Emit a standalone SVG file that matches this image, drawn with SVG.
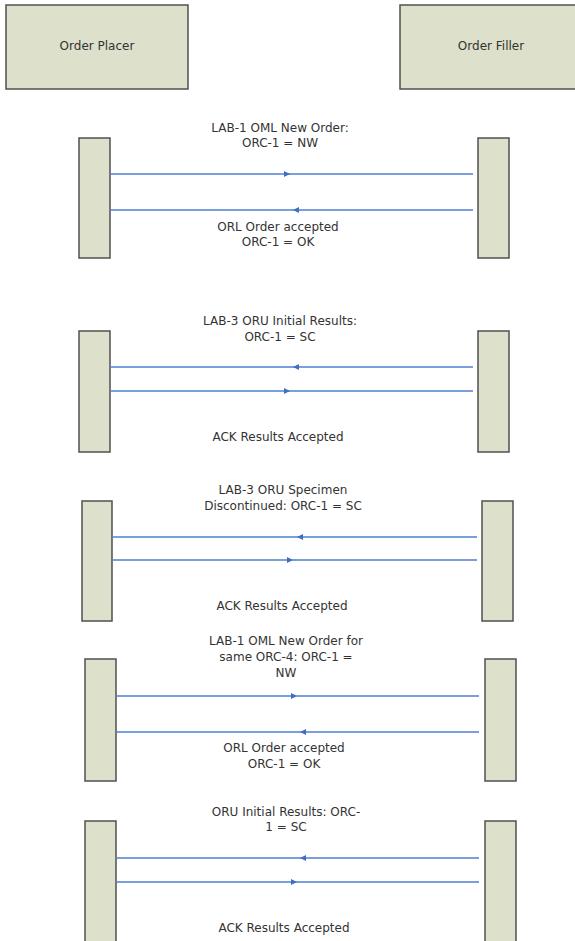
<svg xmlns="http://www.w3.org/2000/svg" width="575" height="941" viewBox="0 0 575 941">
<style>
.box{fill:#dde0ca;stroke:#505050;stroke-width:1.5}
.t{font-family:"DejaVu Sans","Liberation Sans",Arial,sans-serif;font-size:12px;fill:#333;text-anchor:middle}
.msg{fill:none;stroke:#4f7fcf;stroke-width:1.3;marker-mid:url(#ah)}
</style>
<defs>
<marker id="ah" viewBox="0 0 6 6" refX="6" refY="3" markerWidth="6" markerHeight="6" markerUnits="userSpaceOnUse" orient="auto">
<path d="M0,0 L6,3 L0,6 z" fill="#3f6fc0"/>
</marker>
</defs>
<rect width="575" height="941" fill="#fff"/>
<g id="order-placer"><rect class="box" x="6" y="5" width="182" height="84"/><text class="t" x="97" y="50">Order Placer</text></g>
<g id="order-filler"><rect class="box" x="400" y="5" width="182" height="84"/><text class="t" x="491" y="50">Order Filler</text></g>

<g id="act1"><rect class="box" x="79" y="138" width="31" height="120"/><rect class="box" x="478" y="138" width="31" height="120"/></g>
<g id="act2"><rect class="box" x="79" y="331" width="31" height="121"/><rect class="box" x="478" y="331" width="31" height="121"/></g>
<g id="act3"><rect class="box" x="82" y="501" width="30" height="120"/><rect class="box" x="482" y="501" width="31" height="120"/></g>
<g id="act4"><rect class="box" x="85" y="659" width="31" height="122"/><rect class="box" x="485" y="659" width="31" height="122"/></g>
<g id="act5"><rect class="box" x="85" y="821" width="31" height="130"/><rect class="box" x="485" y="821" width="31" height="130"/></g>

<g id="connectors">
<path class="msg" d="M110,174 L290,174 L473,174"/>
<path class="msg" d="M473,210 L293,210 L110,210"/>
<path class="msg" d="M473,367 L293,367 L110,367"/>
<path class="msg" d="M110,391 L290,391 L473,391"/>
<path class="msg" d="M477,537 L297,537 L112,537"/>
<path class="msg" d="M112,560 L293,560 L477,560"/>
<path class="msg" d="M116,696 L297,696 L479,696"/>
<path class="msg" d="M479,732 L300,732 L116,732"/>
<path class="msg" d="M479,858 L300,858 L116,858"/>
<path class="msg" d="M116,882 L297,882 L479,882"/>
</g>

<g id="labels">
<text class="t" x="280" y="132">LAB-1 OML New Order:</text>
<text class="t" x="280" y="147">ORC-1 = NW</text>
<text class="t" x="278" y="231">ORL Order accepted</text>
<text class="t" x="278" y="246">ORC-1 = OK</text>
<text class="t" x="280" y="325">LAB-3 ORU Initial Results:</text>
<text class="t" x="280" y="341">ORC-1 = SC</text>
<text class="t" x="278" y="441">ACK Results Accepted</text>
<text class="t" x="283" y="494">LAB-3 ORU Specimen</text>
<text class="t" x="283" y="510">Discontinued: ORC-1 = SC</text>
<text class="t" x="282" y="610">ACK Results Accepted</text>
<text class="t" x="286" y="645">LAB-1 OML New Order for</text>
<text class="t" x="286" y="661">same ORC-4: ORC-1 =</text>
<text class="t" x="286" y="677">NW</text>
<text class="t" x="284" y="752">ORL Order accepted</text>
<text class="t" x="284" y="768">ORC-1 = OK</text>
<text class="t" x="286" y="816">ORU Initial Results: ORC-</text>
<text class="t" x="286" y="831">1 = SC</text>
<text class="t" x="284" y="932">ACK Results Accepted</text>
</g>
</svg>
